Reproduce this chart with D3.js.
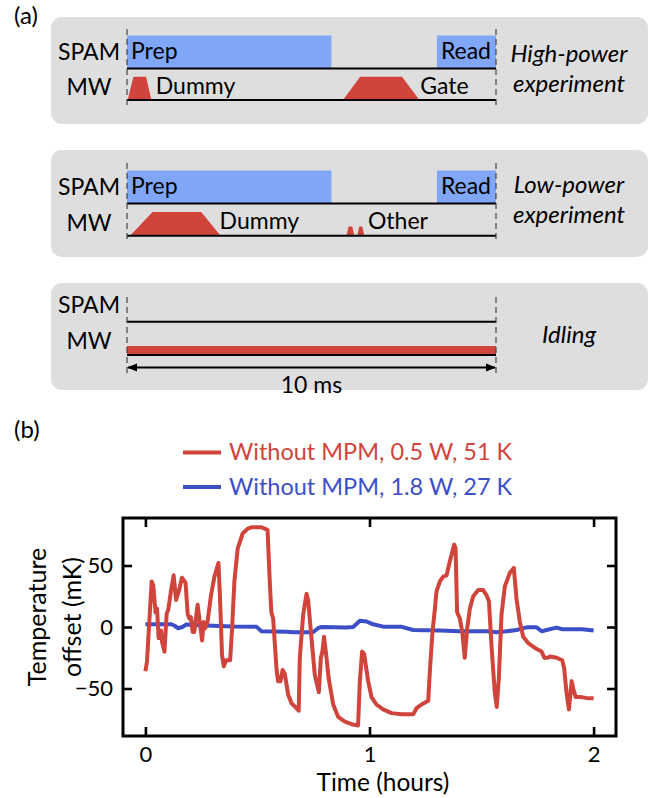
<!DOCTYPE html>
<html>
<head>
<meta charset="utf-8">
<script src="https://cdn.jsdelivr.net/npm/d3@7"></script>
<style>
  body { margin: 0; background: #fff; }
  text { font-family: Lato, "Open Sans", sans-serif; }
</style>
</head>
<body>
<div id="fig"></div>
<script>
// ---- panel (a): pulse sequences, times in ms over a 10 ms window
var rowNames = ["SPAM", "MW"];
var spamBlocks = [[0, 5.54], [8.4, 10]];           // Prep, Read
var spamLabels = ["Prep", "Read"];
var hpPulses = [[0.04, 0.19, 0.5, 0.64], [5.88, 6.33, 7.44, 7.9]];
var hpLabels = ["Dummy", "Gate"];
var lpPulses = [[0.11, 0.7, 2.0, 2.51], [5.97, 6.02, 6.09, 6.14], [6.26, 6.31, 6.36, 6.41]];
var lpHeights = [1, 0.37, 0.37];
var lpLabels = ["Dummy", "Other"];
var idleBlock = [0, 10];
var expNames = [["High-power", "experiment"], ["Low-power", "experiment"], ["Idling"]];

// ---- panel (b): temperature traces
var redTime = [0, 0.007, 0.028, 0.035, 0.045, 0.052, 0.059, 0.07, 0.074, 0.085, 0.095, 0.102, 0.114, 0.126, 0.137, 0.149, 0.163, 0.179, 0.189, 0.196, 0.203, 0.211, 0.218, 0.233, 0.244, 0.253, 0.26, 0.267, 0.277, 0.293, 0.308, 0.326, 0.333, 0.342, 0.35, 0.36, 0.378, 0.387, 0.397, 0.412, 0.434, 0.457, 0.473, 0.518, 0.545, 0.555, 0.562, 0.57, 0.585, 0.592, 0.603, 0.612, 0.622, 0.637, 0.652, 0.674, 0.684, 0.689, 0.704, 0.719, 0.726, 0.741, 0.756, 0.774, 0.783, 0.79, 0.797, 0.805, 0.818, 0.838, 0.86, 0.89, 0.92, 0.949, 0.957, 0.967, 0.976, 0.994, 1.009, 1.031, 1.061, 1.098, 1.143, 1.195, 1.21, 1.232, 1.262, 1.27, 1.281, 1.292, 1.299, 1.314, 1.329, 1.344, 1.358, 1.378, 1.384, 1.391, 1.403, 1.414, 1.425, 1.436, 1.448, 1.463, 1.485, 1.507, 1.522, 1.533, 1.545, 1.559, 1.568, 1.577, 1.589, 1.604, 1.626, 1.644, 1.656, 1.671, 1.686, 1.708, 1.738, 1.768, 1.78, 1.795, 1.805, 1.835, 1.86, 1.869, 1.879, 1.89, 1.902, 1.909, 1.92, 1.946, 1.976, 2.0];
var redTemp = [-36, -28, 37, 34, 12, 15, -9, -3, -12, -20, 11, 14, 29, 42, 22, 29, 40, 36, 10, 7, 8, -4, -4, 18, 2, -11, 4, -1, 4, 26, 41, 52, 23, -23, -32, -27, -27, -1, 37, 64, 76, 80, 81, 81, 79, 37, 12, 7, -34, -44, -44, -35, -38, -55, -62, -66, -68, -25, 10, 27, 22, -9, -39, -53, -25, -20, -8, -20, -42, -63, -73, -77, -79, -80, -44, -20, -22, -44, -57, -63, -67, -70, -71, -71, -66, -63, -60, -34, -4, 15, 29, 37, 41, 42, 53, 67, 64, 12, 7, -4, -25, -1, 15, 25, 30, 30, 26, 21, -17, -53, -65, -42, 10, 33, 44, 48, 23, 4, -8, -13, -17, -20, -25, -25, -24, -25, -27, -34, -53, -67, -44, -50, -57, -57, -58, -58];
var blueTime = [0, 0.116, 0.13, 0.146, 0.165, 0.183, 0.242, 0.391, 0.495, 0.518, 0.629, 0.659, 0.748, 0.77, 0.786, 0.897, 0.927, 0.957, 0.987, 1.016, 1.061, 1.14, 1.195, 1.314, 1.403, 1.522, 1.567, 1.612, 1.656, 1.701, 1.746, 1.768, 1.79, 1.835, 1.86, 1.95, 2.0];
var blueTemp = [2.2, 2.2, 1, -1, 0, 2, 1.5, 0.5, 0.3, -3.5, -3.8, -4.3, -4.3, -1, 0, -0.5, 0, 5, 4.5, 2.2, 0.3, 0.3, -2.4, -2.8, -3.5, -3.5, -4.3, -3.5, -2.4, -0.3, -0.3, -3.5, -2.4, -0.5, -1.8, -1.8, -2.8];
var seriesNames = ["Without MPM, 0.5 W, 51 K", "Without MPM, 1.8 W, 27 K"];
var xTicks = [0, 1, 2];
var yTicks = [-50, 0, 50];

var RED = "#d0443b", BLUE = "#3c4fc8", LIGHTBLUE = "#80a7f7", GRAY = "#dedede";
var FS = "23px";

var svg = d3.select("#fig").append("svg")
    .attr("width", 655)
    .attr("height", 798);

// ================= panel (a)
svg.append("text").attr("x", 14).attr("y", 24).style("font-size", "24px").text("(a)");

var t = d3.scaleLinear().domain([0, 10]).range([127, 496]);
var boxes = [
  {top: 17, bottom: 124, spamY: 68.5, mwY: 100, dash: [29, 108], labY: [60, 95], expY: [61.7, 91.7]},
  {top: 150, bottom: 257, spamY: 203.5, mwY: 235.7, dash: [163, 243], labY: [195, 230.7], expY: [193.3, 223.3]},
  {top: 283, bottom: 390, spamY: 321.7, mwY: 355, dash: [297, 377], labY: [312.7, 349.3], expY: [342.7]}
];

var pulse = function(p, base, h) {
  var line = d3.line().x(function(d) { return t(d[0]); }).y(function(d) { return base - d[1] * h; });
  return line([[p[0], 0], [p[1], 1], [p[2], 1], [p[3], 0]]);
};

boxes.forEach(function(b, i) {
  var g = svg.append("g");
  g.append("rect")
    .attr("x", 51).attr("y", b.top)
    .attr("width", 597).attr("height", b.bottom - b.top)
    .attr("rx", 11).attr("fill", GRAY);

  // SPAM blocks
  if (i < 2) {
    g.selectAll(".spam").data(spamBlocks).enter().append("rect")
      .attr("x", function(d) { return t(d[0]); })
      .attr("width", function(d) { return t(d[1]) - t(d[0]); })
      .attr("y", b.spamY - 33)
      .attr("height", 33)
      .attr("fill", LIGHTBLUE);
    g.append("text").attr("x", t(0) + 4).attr("y", b.labY[0] - 1.5)
      .style("font-size", FS).text(spamLabels[0]);
    g.append("text").attr("x", t(10) - 5).attr("y", b.labY[0] - 1.5)
      .attr("text-anchor", "end").style("font-size", FS).text(spamLabels[1]);
  }

  // MW pulses
  if (i == 0) {
    g.selectAll(".pulse").data(hpPulses).enter().append("path")
      .attr("d", function(d) { return pulse(d, b.mwY, 22.5); })
      .attr("fill", RED).attr("stroke", RED).attr("stroke-width", 1.5).attr("stroke-linejoin", "round");
    g.append("text").attr("x", t(0.78)).attr("y", b.mwY - 6.5).style("font-size", FS).text(hpLabels[0]);
    g.append("text").attr("x", t(7.95)).attr("y", b.mwY - 6.5).style("font-size", FS).text(hpLabels[1]);
  } else if (i == 1) {
    g.selectAll(".pulse").data(lpPulses).enter().append("path")
      .attr("d", function(d, j) { return pulse(d, b.mwY, 23 * lpHeights[j]); })
      .attr("fill", RED).attr("stroke", RED).attr("stroke-width", 1.5).attr("stroke-linejoin", "round");
    g.append("text").attr("x", t(2.51)).attr("y", b.mwY - 6.5).style("font-size", FS).text(lpLabels[0]);
    g.append("text").attr("x", t(6.53)).attr("y", b.mwY - 6.5).style("font-size", FS).text(lpLabels[1]);
  } else {
    g.append("rect")
      .attr("x", t(idleBlock[0])).attr("width", t(idleBlock[1]) - t(idleBlock[0]))
      .attr("y", b.mwY - 9).attr("height", 8.5)
      .attr("fill", RED);
  }

  // baselines
  [b.spamY, b.mwY].forEach(function(y) {
    g.append("line").attr("x1", t(0)).attr("x2", t(10)).attr("y1", y).attr("y2", y)
      .attr("stroke", "#000").attr("stroke-width", 2);
  });

  // dashed window edges
  g.selectAll(".edge").data([0, 10]).enter().append("line")
    .attr("x1", function(d) { return t(d); }).attr("x2", function(d) { return t(d); })
    .attr("y1", b.dash[0]).attr("y2", b.dash[1])
    .attr("stroke", "#444").attr("stroke-width", 1.2).attr("stroke-dasharray", "6,4");

  // row labels
  rowNames.forEach(function(n, j) {
    g.append("text").attr("x", 89).attr("y", b.labY[j])
      .attr("text-anchor", "middle").style("font-size", FS).text(n);
  });

  // experiment names
  expNames[i].forEach(function(n, j) {
    g.append("text").attr("x", 569).attr("y", b.expY[j])
      .attr("text-anchor", "middle").style("font-size", "24px").style("font-style", "italic").text(n);
  });
});

// 10 ms arrow
var defs = svg.append("defs");
defs.append("marker").attr("id", "ah").attr("viewBox", "0 0 10 10")
  .attr("refX", 9).attr("refY", 5).attr("markerWidth", 5).attr("markerHeight", 5)
  .attr("orient", "auto-start-reverse")
  .append("path").attr("d", "M0,1 L10,5 L0,9 z").attr("fill", "#000");
svg.append("line").attr("x1", t(0) + 1).attr("x2", t(10) - 1).attr("y1", 367.5).attr("y2", 367.5)
  .attr("stroke", "#000").attr("stroke-width", 2)
  .attr("marker-start", "url(#ah)").attr("marker-end", "url(#ah)");
svg.append("text").attr("x", t(5)).attr("y", 393).attr("text-anchor", "middle")
  .style("font-size", FS).text("10 ms");

// ================= panel (b)
svg.append("text").attr("x", 14).attr("y", 438).style("font-size", "24px").text("(b)");

var plot = {left: 123, right: 616, top: 518, bottom: 736};
var x = d3.scaleLinear().domain([-0.1, 2.1]).range([plot.left, plot.right]);
var y = d3.scaleLinear().domain([-88.6, 88.6]).range([plot.bottom, plot.top]);

var redData = redTime.map(function(d, i) { return [d, redTemp[i]]; });
var blueData = blueTime.map(function(d, i) { return [d, blueTemp[i]]; });
var line = d3.line().x(function(d) { return x(d[0]); }).y(function(d) { return y(d[1]); });

svg.append("path").datum(blueData).attr("d", line)
  .attr("fill", "none").attr("stroke", BLUE).attr("stroke-width", 4).attr("stroke-linejoin", "round");
svg.append("path").datum(redData).attr("d", line)
  .attr("fill", "none").attr("stroke", RED).attr("stroke-width", 4).attr("stroke-linejoin", "round");

var axisStyle = function(g) {
  g.select(".domain").remove();
  g.selectAll(".tick line").attr("stroke", "#000").attr("stroke-width", 2.6);
  g.selectAll(".tick text").style("font-size", "22px").attr("fill", "#000");
};

svg.append("g").attr("transform", "translate(0," + plot.bottom + ")")
  .call(d3.axisBottom(x).tickValues(xTicks).tickSize(-9).tickPadding(10).tickFormat(d3.format("d")))
  .call(axisStyle);
svg.append("g").attr("transform", "translate(0," + plot.top + ")")
  .call(d3.axisTop(x).tickValues(xTicks).tickSize(-9).tickFormat(""))
  .call(axisStyle);
svg.append("g").attr("transform", "translate(" + plot.left + ",0)")
  .call(d3.axisLeft(y).tickValues(yTicks).tickSize(-9).tickPadding(10))
  .call(axisStyle);
svg.append("g").attr("transform", "translate(" + plot.right + ",0)")
  .call(d3.axisRight(y).tickValues(yTicks).tickSize(-9).tickFormat(""))
  .call(axisStyle);

svg.append("rect")
  .attr("x", plot.left).attr("y", plot.top)
  .attr("width", plot.right - plot.left).attr("height", plot.bottom - plot.top)
  .attr("fill", "none").attr("stroke", "#000").attr("stroke-width", 3);

svg.append("text").attr("x", 383).attr("y", 791).attr("text-anchor", "middle")
  .style("font-size", "24.5px").text("Time (hours)");
var yl = svg.append("text").attr("transform", "translate(46,617) rotate(-90)")
  .attr("text-anchor", "middle").style("font-size", "25px");
yl.append("tspan").attr("x", 0).attr("y", 0).text("Temperature");
yl.append("tspan").attr("x", 0).attr("y", 35).text("offset (mK)");

// legend
var legendG = svg.selectAll(".legend")
  .data(seriesNames)
  .enter().append("g")
  .attr("class", "legend")
  .attr("transform", function(d, i) { return "translate(0," + (452.5 + i * 34.5) + ")"; });
legendG.append("line")
  .attr("x1", 183).attr("x2", 221)
  .attr("stroke", function(d, i) { return i == 0 ? RED : BLUE; })
  .attr("stroke-width", 4);
legendG.append("text")
  .attr("x", 229).attr("y", 7.5)
  .attr("fill", function(d, i) { return i == 0 ? RED : BLUE; })
  .style("font-size", "23.5px")
  .text(function(d) { return d; });
</script>
</body>
</html>
